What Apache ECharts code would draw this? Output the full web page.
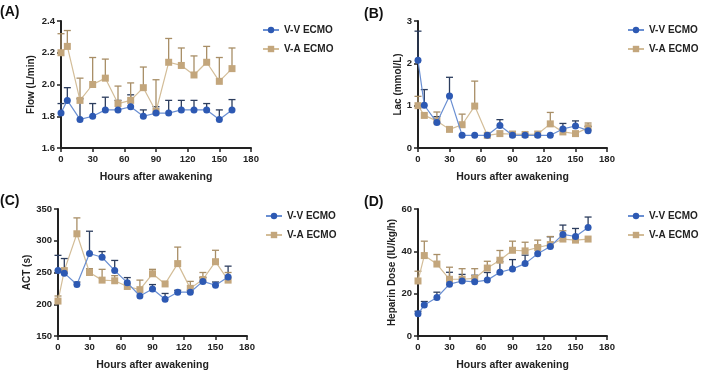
<!DOCTYPE html>
<html><head><meta charset="utf-8">
<script src="https://cdn.jsdelivr.net/npm/echarts@6/dist/echarts.min.js"></script>
<style>html,body{margin:0;padding:0;background:#fff}#c{width:701px;height:380px}</style>
</head><body><div id="c"></div>
<script>
const hours = [0,6,18,30,42,54,66,78,90,102,114,126,138,150,162];
const xTicks = [0,30,60,90,120,150,180];
const seriesNames = ['V-V ECMO','V-A ECMO'];

const flowVV      = [1.82,1.90,1.78,1.80,1.84,1.84,1.86,1.80,1.82,1.82,1.84,1.84,1.84,1.78,1.84];
const flowVVUpper = [1.88,1.98,1.91,1.88,1.92,1.90,1.935,1.84,1.86,1.90,1.90,1.90,1.88,1.84,1.905];
const flowVA      = [2.20,2.24,1.90,2.00,2.04,1.88,1.90,1.98,1.83,2.14,2.12,2.06,2.14,2.02,2.10];
const flowVAUpper = [2.32,2.34,2.04,2.17,2.16,1.99,2.01,2.11,2.03,2.29,2.23,2.18,2.24,2.17,2.23];

const lacVV      = [2.07,1.01,0.60,1.23,0.30,0.30,0.30,0.53,0.30,0.30,0.30,0.30,0.45,0.52,0.41];
const lacVVUpper = [2.76,1.38,0.74,1.67,0.30,0.30,0.30,0.67,0.30,0.30,0.30,0.30,0.58,0.64,0.51];
const lacVA      = [1.00,0.77,0.64,0.44,0.55,0.99,0.30,0.34,0.33,0.32,0.33,0.57,0.38,0.34,0.48];
const lacVAUpper = [1.22,0.77,0.85,0.44,0.80,1.58,0.30,0.34,0.33,0.32,0.33,0.84,0.38,0.34,0.59];

const actVV      = [253,249,231,280,274,253,234,213,224,208,219,219,236,230,243];
const actVVUpper = [277,272,235,315,283,269,242,213,231,217,222,222,242,235,260];
const actVA      = [205,253,311,250,238,237,228,223,248,232,264,225,239,267,238];
const actVAUpper = [213,253,336,256,255,245,228,238,255,232,290,236,250,285,250];

const hepVV      = [10.5,14.6,18.2,24.5,26.0,25.6,26.4,30.1,31.7,34.2,38.9,42.3,48.0,47.0,51.3];
const hepVVUpper = [11.7,16.3,20.7,30.1,29.1,28.7,30.0,35.1,36.1,38.2,42.6,46.9,52.4,50.8,56.2];
const hepVA      = [26.0,38.0,34.0,26.8,26.8,27.2,32.1,35.8,40.5,40.2,41.8,43.2,45.8,45.3,45.8];
const hepVAUpper = [30.6,44.8,38.5,32.5,31.8,31.8,35.3,40.4,44.8,44.3,45.3,47.0,49.7,45.3,45.8];

const panels = [
  {tag:'(A)', yName:'Flow (L/min)', ymin:1.6, ymax:2.4, yint:0.2, dec:1, nameGap:25, vv:flowVV, vvU:flowVVUpper, va:flowVA, vaU:flowVAUpper,
   grid:{left:61, top:21, width:190, height:127}, tagPos:[0,5], legendPos:[262,25]},
  {tag:'(B)', yName:'Lac (mmol/L)', ymin:0, ymax:3, yint:1, dec:0, nameGap:15, vv:lacVV, vvU:lacVVUpper, va:lacVA, vaU:lacVAUpper,
   grid:{left:418, top:21, width:189, height:127}, tagPos:[364,7], legendPos:[627,25]},
  {tag:'(C)', yName:'ACT (s)', ymin:150, ymax:350, yint:50, dec:0, nameGap:26, vv:actVV, vvU:actVVUpper, va:actVA, vaU:actVAUpper,
   grid:{left:58, top:209, width:189, height:127}, tagPos:[0,194], legendPos:[265,211]},
  {tag:'(D)', yName:'Heparin Dose (IU/kg/h)', ymin:0, ymax:60, yint:20, dec:0, nameGap:21, vv:hepVV, vvU:hepVVUpper, va:hepVA, vaU:hepVAUpper,
   grid:{left:418, top:209, width:189, height:127}, tagPos:[364,195], legendPos:[627,211]}
];

const FONT = '"Liberation Sans", Arial, sans-serif';
const blueM = '#2d59b3', blueL = '#6a8fd2', blueE = '#2c3d5e';
const tanM = '#c3a67c', tanL = '#d3bd98', tanE = '#a88e66';

function errSeries(xi, data, color){
  return {
    type:'custom', xAxisIndex:xi, yAxisIndex:xi, z:1, silent:true,
    data: data,
    renderItem:function(params, api){
      const p0 = api.coord([api.value(0), api.value(1)]);
      const p1 = api.coord([api.value(0), api.value(2)]);
      if (Math.abs(p1[1]-p0[1]) < 1) return null;
      return {type:'group', children:[
        {type:'line', shape:{x1:p0[0], y1:p0[1], x2:p1[0], y2:p1[1]}, style:{stroke:color, lineWidth:1.3}},
        {type:'line', shape:{x1:p1[0]-3.5, y1:p1[1], x2:p1[0]+3.5, y2:p1[1]}, style:{stroke:color, lineWidth:1.3}}
      ]};
    }
  };
}

const option = {animation:false, backgroundColor:'#fff', textStyle:{fontFamily:FONT, fontWeight:'bold'},
  grid:[], xAxis:[], yAxis:[], series:[], legend:[], graphic:[]};

panels.forEach((p, i) => {
  option.grid.push(Object.assign({containLabel:false}, p.grid));
  option.xAxis.push({type:'value', gridIndex:i, min:0, max:180, interval:30,
    name:'Hours after awakening', nameLocation:'middle', nameGap:24,
    nameTextStyle:{fontFamily:FONT, fontWeight:'bold', fontSize:10.5, color:'#222'},
    axisLine:{onZero:false, lineStyle:{color:'#222', width:2}},
    axisTick:{show:true, length:4, lineStyle:{color:'#222', width:1.5}},
    axisLabel:{fontFamily:FONT, fontWeight:'bold', fontSize:9.5, color:'#222', margin:6},
    splitLine:{show:false}});
  option.yAxis.push({type:'value', gridIndex:i, min:p.ymin, max:p.ymax, interval:p.yint,
    name:p.yName, nameLocation:'middle', nameGap:p.nameGap,
    nameTextStyle:{fontFamily:FONT, fontWeight:'bold', fontSize:10, color:'#222'},
    axisLine:{show:true, onZero:false, lineStyle:{color:'#222', width:2}},
    axisTick:{show:true, length:4, lineStyle:{color:'#222', width:1.5}},
    axisLabel:{fontFamily:FONT, fontWeight:'bold', fontSize:9.5, color:'#222', margin:6,
      formatter:v => v.toFixed(p.dec)},
    splitLine:{show:false}});
  option.series.push(errSeries(i, hours.map((h,k)=>[h, p.vv[k], p.vvU[k]]), blueE));
  option.series.push(errSeries(i, hours.map((h,k)=>[h, p.va[k], p.vaU[k]]), tanE));
  option.series.push({type:'line', name:seriesNames[0], xAxisIndex:i, yAxisIndex:i, z:3,
    data:hours.map((h,k)=>[h, p.vv[k]]), symbol:'circle', symbolSize:7,
    lineStyle:{color:blueL, width:1.2}, itemStyle:{color:blueM}});
  option.series.push({type:'line', name:seriesNames[1], xAxisIndex:i, yAxisIndex:i, z:2,
    data:hours.map((h,k)=>[h, p.va[k]]), symbol:'rect', symbolSize:7,
    lineStyle:{color:tanL, width:1.2}, itemStyle:{color:tanM}});
  option.legend.push({data:seriesNames, orient:'vertical', left:p.legendPos[0], top:p.legendPos[1],
    itemWidth:16, itemHeight:8, itemGap:9, padding:0,
    textStyle:{fontFamily:FONT, fontWeight:'bold', fontSize:10, color:'#222'}});
  option.graphic.push({type:'text', left:p.tagPos[0], top:p.tagPos[1],
    style:{text:p.tag, font:'bold 14px '+FONT, fill:'#111'}});
});

const chart = echarts.init(document.getElementById('c'), null, {renderer:'canvas'});
chart.setOption(option);
</script></body></html>
